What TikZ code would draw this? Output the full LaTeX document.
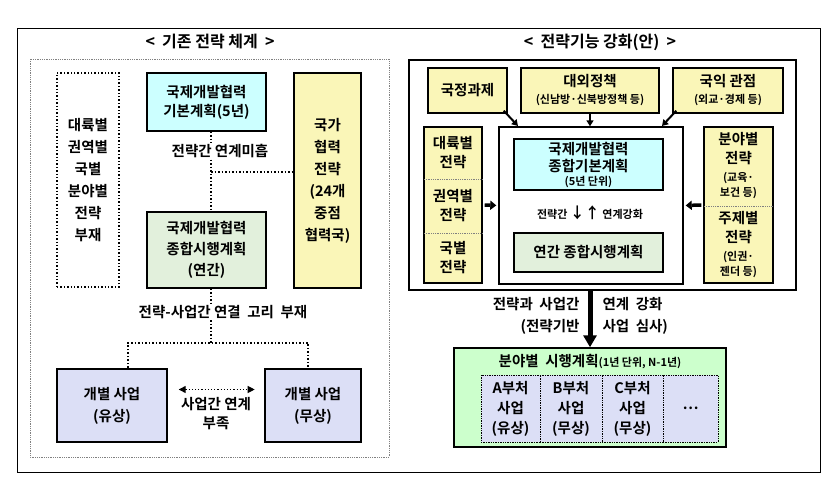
\documentclass[tikz,border=0pt]{standalone}
\usepackage{fontspec}
\setmainfont{Noto Sans CJK KR}[BoldFont={* Bold}]
\usetikzlibrary{arrows.meta}
\definecolor{cy}{HTML}{CCFFFF}
\definecolor{ye}{HTML}{FAF6B8}
\definecolor{gr}{HTML}{E2F0DC}
\definecolor{lv}{HTML}{DCDFF6}
\definecolor{lg}{HTML}{CCFFCC}
\begin{document}
\begin{tikzpicture}[x=1pt,y=-1pt,
  box/.style={draw,line width=1.4pt,align=center,font=\fontsize{14.5}{19}\selectfont\bfseries,inner sep=0pt},
  txt/.style={align=center,font=\fontsize{14.5}{19}\selectfont\bfseries,inner sep=0pt},
  dot/.style={dotted,line width=1.5pt},
  lbl/.style={font=\fontsize{14.5}{22}\selectfont\bfseries,align=center},
  sm/.style={font=\fontsize{11}{13}\selectfont\bfseries}]
\useasboundingbox (0,0) rectangle (836,486);
\draw[line width=0.8pt] (17,28) rectangle (820,472);
\node[lbl,font=\fontsize{16}{18}\selectfont\bfseries] (t1) at (210,42) {<\ \ 기존\ 전략\ 체계\ \ >};
\node[lbl,font=\fontsize{16}{18}\selectfont\bfseries] (t2) at (600,42) {<\ \ 전략기능\ 강화(안)\ \ >};
\draw[densely dotted,gray,line width=0.8pt] (30,59) rectangle (389,457);
% left
\node[box,dot,minimum width=62,minimum height=214,font=\fontsize{14.5}{22}\selectfont\bfseries] (na) at (88,180) {대륙별\\권역별\\국별\\분야별\\전략\\부재};
\node[box,fill=cy,minimum width=119,minimum height=58] (kb) at (206.5,102) {국제개발협력\\기본계획(5년)};
\node[box,fill=ye,minimum width=67,minimum height=215,font=\fontsize{14.5}{22}\selectfont\bfseries] (nc) at (327.5,180.5) {국가\\협력\\전략\\(24개\\중점\\협력국)};
\node[box,fill=gr,minimum width=119,minimum height=76,font=\fontsize{14.5}{21}\selectfont\bfseries] (ip) at (206.5,250) {국제개발협력\\종합시행계획\\(연간)};
\node[box,fill=lv,minimum width=110,minimum height=73,font=\fontsize{14.5}{22}\selectfont\bfseries] (p1) at (112,405.5) {개별 사업\\(유상)};
\node[box,fill=lv,minimum width=96,minimum height=73,font=\fontsize{14.5}{22}\selectfont\bfseries] (p2) at (313,405.5) {개별 사업\\(무상)};
\draw[dot] (kb.south -| 211,0) -- (ip.north -| 211,0);
\coordinate (j1) at (211,172);
\draw[dot] (j1) -- (nc.west |- j1);
\coordinate (j2) at (211,343);
\draw[dot] (ip.south -| 211,0) -- (j2);
\draw[dot] (128,368) -- (128,343) -- (308,343) -- (308,368);
\node[lbl,fill=white,inner sep=1pt] (l1) at (220,151) {전략간 연계미흡};
\node[lbl,fill=white,inner sep=1pt] (l2) at (223,312) {전략-사업간 연결\ \ 고리\ \ 부재};
\draw[dotted,line width=1.2pt,{Triangle[length=7pt,width=7pt]}-{Triangle[length=7pt,width=7pt]}] (p1.east)++(11,-16) -- ++(76,0);
\node[lbl,font=\fontsize{14.5}{19}\selectfont\bfseries] (l3) at (216,414) {사업간 연계\\부족};
% right
\draw[line width=1.4pt] (409,60) rectangle (796,290);
\node[box,fill=ye,minimum width=79,minimum height=45] (g1) at (467.5,90.5) {국정과제};
\node[box,fill=ye,minimum width=138,minimum height=45] (g2) at (590,90.5) {대외정책\\[-2pt]{\fontsize{11}{12}\selectfont (신남방·신북방정책 등)}};
\node[box,fill=ye,minimum width=110,minimum height=45] (g3) at (728,90.5) {국익 관점\\[-2pt]{\fontsize{11}{12}\selectfont (외교·경제 등)}};
\node[box,fill=ye,minimum width=58,minimum height=156] (lc) at (453,205) {};
\node[txt] at (453,153) {대륙별\\전략};
\node[txt] at (453,206) {권역별\\전략};
\node[txt] at (453,258) {국별\\전략};
\draw[densely dotted,gray,line width=0.8pt] (424,179) -- (482,179) (424,233) -- (482,233);
\node[box,fill=ye,minimum width=69,minimum height=156] (rc) at (738.5,205) {};
\node[txt] at (738.5,166) {분야별\\전략\\[-1pt]{\fontsize{11}{13}\selectfont (교육·}\\[-4pt]{\fontsize{11}{13}\selectfont 보건 등)}};
\node[txt] at (738.5,245) {주제별\\전략\\[-1pt]{\fontsize{11}{13}\selectfont (인권·}\\[-4pt]{\fontsize{11}{13}\selectfont 젠더 등)}};
\draw[densely dotted,gray,line width=0.8pt] (704,206) -- (773,206);
\node[box,fill=white,minimum width=184,minimum height=157] (cb) at (591,205.5) {};
\node[box,fill=cy,minimum width=149,minimum height=51,font=\fontsize{14.5}{17}\selectfont\bfseries] (c1) at (588.5,164.5) {국제개발협력\\종합기본계획\\[-3pt]{\fontsize{11}{12}\selectfont (5년 단위)}};
\node[box,fill=gr,minimum width=149,minimum height=39] (c2) at (588.5,252.5) {연간 종합시행계획};
\node[sm] (mid) at (590,213) {전략간 {\fontsize{15}{15}\selectfont↓↑} 연계강화};
\tikzset{fat/.style={-{Triangle[length=6pt,width=9pt]},line width=3.5pt,shorten >=2pt,shorten <=2pt}}
\draw[fat] (lc.east) -- (cb.west);
\draw[fat] (rc.west) -- (cb.east);
\draw[-{Triangle[length=6pt,width=7pt]},line width=2pt] (g1.south east)++(-4,-3) -- (518,126);
\draw[-{Triangle[length=6pt,width=7pt]},line width=2pt] (g2.south) -- (cb.north -| g2.south);
\draw[-{Triangle[length=6pt,width=7pt]},line width=2pt] (g3.south west)++(4,-3) -- (662,126);
% bottom
\node[box,fill=lg,minimum width=272,minimum height=99] (bg) at (590,397.5) {};
\draw[-{Triangle[length=12pt,width=13pt]},line width=5pt] (590,290) -- (bg.north -| 590,0);
\node[lbl,anchor=east,align=right] (b1) at (583,316) {전략과\ \ 사업간\\(전략기반};
\node[lbl,anchor=west,align=left] (b2) at (599,316) {연계\ \ 강화\\사업\ \ 심사)};
\node[lbl] (bt) at (590,362) {분야별\ \ 시행계획{\fontsize{11}{12}\selectfont (1년 단위, N-1년)}};
\tikzset{ib/.style={box,fill=lv,draw,densely dotted,line width=0.8pt,minimum width=60,minimum height=67,font=\fontsize{14.5}{20}\selectfont\bfseries}}
\node[ib,minimum width=59] (a1) at (510.5,408.5) {A부처\\사업\\(유상)};
\node[ib,minimum width=62] (a2) at (571,408.5) {B부처\\사업\\(무상)};
\node[ib,minimum width=61] (a3) at (632.5,408.5) {C부처\\사업\\(무상)};
\node[ib,minimum width=55] (a4) at (690.5,408.5) {…};
\end{tikzpicture}
\end{document}
